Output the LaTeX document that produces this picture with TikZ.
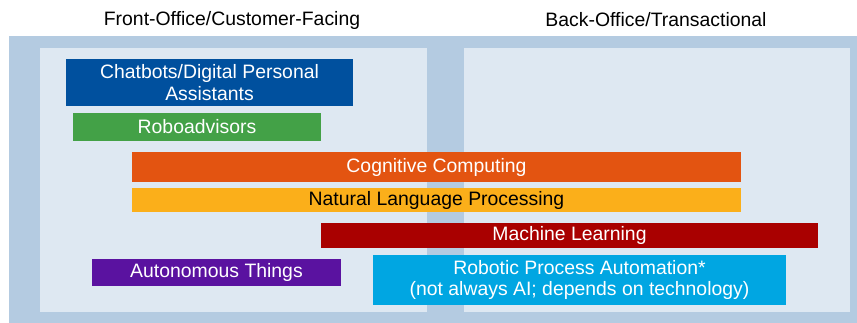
\documentclass[tikz,border=0pt]{standalone}
\usepackage{fontspec}
\setmainfont{Liberation Sans}
\usepackage{xcolor}
\usepackage{tikz}
\definecolor{fondo}{HTML}{B4CBE1}
\definecolor{panel}{HTML}{DEE8F2}
\definecolor{azul}{HTML}{00509E}
\definecolor{verde}{HTML}{43A147}
\definecolor{naranja}{HTML}{E35411}
\definecolor{amarillo}{HTML}{FBAF1A}
\definecolor{rojo}{HTML}{A90000}
\definecolor{morado}{HTML}{5A12A0}
\definecolor{celeste}{HTML}{00A6E2}
\tikzset{
  bar/.style={draw=none,inner sep=0pt,outer sep=0pt,align=center,text=white,font=\fontsize{19.4}{21.5}\selectfont},
  barblue/.style={bar,fill=azul},
  bargreen/.style={bar,fill=verde},
  barorange/.style={bar,fill=naranja},
  baryellow/.style={bar,fill=amarillo,text=black},
  barred/.style={bar,fill=rojo},
  barpurple/.style={bar,fill=morado},
  barcyan/.style={bar,fill=celeste},
  panelbox/.style={fill=panel,draw=none,inner sep=0pt,outer sep=0pt},
  header/.style={font=\fontsize{19.4}{21.5}\selectfont,inner sep=0pt},
}

\begin{document}
\begin{tikzpicture}[x=1pt,y=-1pt]
  \useasboundingbox (0,0) rectangle (857,323);
  % background and the two panels
  \node[fill=fondo,inner sep=0pt,outer sep=0pt,minimum width=848pt,minimum height=287pt] (bg) at (433,179.5) {};
  \node[panelbox,minimum width=387pt,minimum height=264pt] (front) at (233.5,180) {};
  \node[panelbox,minimum width=386pt,minimum height=264pt] (back) at (657,180) {};
  \node[header] (fronttitle) at (232,20) {Front-Office/Customer-Facing};
  \node[header] (backtitle) at (656,20) {Back-Office/Transactional};
  % technologies
  \node[barblue,minimum width=287pt,minimum height=47pt] (chat) at (209.5,82.5) {Chatbots/Digital Personal\\Assistants};
  \node[bargreen,minimum width=248pt,minimum height=28pt] (robo) at (197,127) {Roboadvisors};
  \node[barorange,minimum width=609pt,minimum height=30pt] (cog) at (436.5,167) {Cognitive Computing};
  \node[baryellow,minimum width=609pt,minimum height=24pt] (nlp) at (436.5,200) {Natural Language Processing};
  \node[barred,minimum width=497pt,minimum height=25pt] (ml) at (569.5,235.5) {Machine Learning};
  \node[barpurple,minimum width=249pt,minimum height=27pt] (auto) at (216.5,272.5) {Autonomous Things};
  \node[barcyan,minimum width=413pt,minimum height=50pt] (rpa) at (579.5,280) {Robotic Process Automation*\\(not always AI; depends on technology)};
\end{tikzpicture}
\end{document}
